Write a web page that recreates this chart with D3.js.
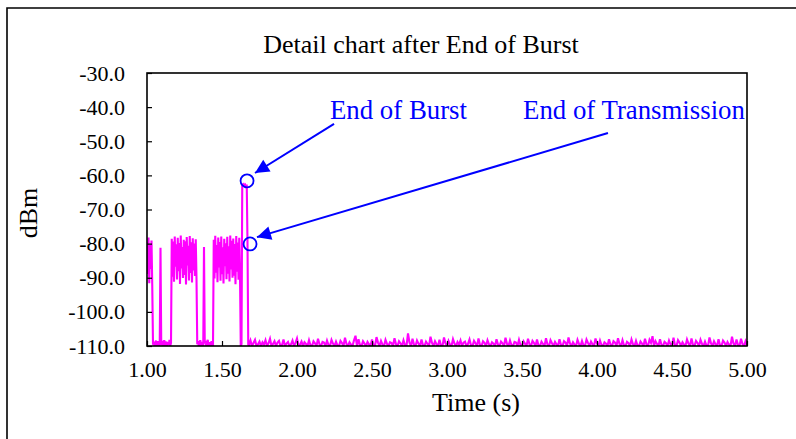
<!DOCTYPE html>
<html>
<head>
<meta charset="utf-8">
<script src="https://cdn.jsdelivr.net/npm/d3@7"></script>
<style>
  html, body { margin: 0; padding: 0; background: #fff; }
  svg { display: block; }
  text { font-family: "Liberation Serif", "Times New Roman", serif; }
</style>
</head>
<body>
<svg id="chart" width="796" height="439"></svg>
<script>
// ---------------- DATA ----------------
const chartTitle = "Detail chart after End of Burst";
const xTitle = "Time (s)";
const yTitle = "dBm";
const xTicks = [1.00, 1.50, 2.00, 2.50, 3.00, 3.50, 4.00, 4.50, 5.00];
const yTicks = [-30, -40, -50, -60, -70, -80, -90, -100, -110];

// burst section: samples from 1.000 s every 0.005 s
const burstStart = 1.0;
const burstStep = 0.005;
const burstValues = [
  -79.5, -88.9, -78.2, -91.6, -80.3, -87.4, -79.1, -92.3, -109.6, -108.7,
  -110, -109.1, -108.4, -110, -109.3, -108.6, -110, -109.4, -81.2, -109.8,
  -108.5, -110, -109.2, -108.3, -110, -109.5, -108.7, -110, -108.9, -109.7,
  -108.2, -110, -109.1,
  -78.6, -89.7, -79.4, -91.2, -77.9, -86.8, -80.2, -90.5, -78.3, -88.1,
  -79.8, -91.8, -77.6, -87.3, -81.0, -90.1, -78.9, -89.2, -79.3, -92.0,
  -78.1, -86.4, -80.6, -90.8, -77.8, -88.6, -79.6, -91.4, -78.4, -87.9,
  -80.0, -89.5, -78.7, -90.3,
  -109.5, -108.6, -110, -109.0, -108.3, -110, -109.6, -108.8, -110, -81.0,
  -109.3, -108.5, -110, -109.1, -108.2, -110, -109.7, -108.9, -110, -108.6,
  -109.4, -110,
  -78.9, -90.2, -77.7, -88.5, -80.4, -91.3, -78.2, -87.0, -79.5, -90.9,
  -77.9, -89.0, -81.1, -91.7, -78.6, -86.6, -79.9, -90.4, -78.0, -88.8,
  -80.8, -91.1, -77.6, -87.6, -79.2, -90.0, -78.5, -89.4, -80.1, -91.9,
  -77.8, -88.2, -79.7, -90.6, -78.3, -89.1,
  -110, -109.4, -62.4, -62.9, -62.6, -63.1, -62.8, -63.4, -62.7, -79.9,
  -109.6
];

// noise floor after the end of transmission: samples from 1.68 s every 0.01 s
const floorStart = 1.68;
const floorStep = 0.01;
const floorValues = [
  -109.8,-108.4,-110,-109.1,-108.2,-110,-109.5,-108.7,-110,-108.9,-109.6,-108.3,-110,-109.2,-107.9,-110,-109.4,-108.6,-110,-109.0,
  -108.5,-110,-109.7,-108.1,-110,-109.3,-108.8,-110,-109.5,-108.4,-110,-109.1,-107.8,-110,-109.6,-108.7,-110,-108.9,-109.4,-110,
  -108.3,-109.8,-110,-108.6,-109.2,-110,-107.9,-109.5,-110,-108.8,-109.0,-110,-108.4,-109.7,-110,-108.2,-109.3,-110,-108.7,-109.9,
  -110,-108.5,-109.1,-110,-107.6,-109.4,-110,-108.9,-109.6,-110,-108.3,-107.0,-110,-108.0,-109.7,-110,-108.6,-109.3,-110,-108.8,
  -109.5,-110,-108.1,-109.8,-110,-107.4,-109.0,-110,-108.5,-109.6,-110,-108.2,-109.4,-110,-108.9,-109.1,-110,-107.7,-109.5,-110,
  -108.6,-109.2,-110,-108.3,-109.7,-110,-106.3,-109.0,-110,-107.9,-109.6,-110,-108.4,-109.3,-110,-108.1,-109.8,-110,-108.7,-109.4,
  -110,-107.3,-109.1,-110,-108.6,-109.5,-110,-108.2,-109.9,-110,-107.5,-109.2,-110,-108.5,-109.6,-110,-108.0,-109.3,-110,-108.8,
  -109.6,-108.4,-110,-109.0,-108.7,-110,-109.4,-108.1,-109.8,-110,-108.5,-109.2,-110,-107.8,-109.7,-110,-108.6,-109.1,-110,-108.3,
  -109.5,-110,-108.9,-109.3,-110,-108.0,-109.6,-110,-108.7,-109.2,-110,-107.6,-109.4,-110,-108.4,-109.8,-110,-108.8,-109.0,-110,
  -108.2,-109.7,-110,-108.6,-109.3,-110,-107.9,-109.5,-110,-108.5,-109.1,-110,-108.1,-109.9,-110,-108.7,-109.4,-110,-107.7,-109.6,
  -110,-108.3,-109.2,-110,-108.8,-109.5,-110,-108.0,-109.7,-110,-108.6,-109.0,-110,-107.5,-109.3,-110,-108.9,-109.6,-110,-108.2,
  -109.4,-110,-108.5,-109.8,-110,-108.1,-109.1,-110,-108.7,-109.5,-110,-107.8,-109.2,-110,-108.4,-109.7,-110,-108.9,-109.3,-110,
  -108.0,-109.6,-110,-108.6,-109.0,-110,-107.7,-109.4,-110,-108.3,-109.8,-110,-108.8,-109.2,-110,-108.1,-109.5,-110,-108.5,-109.9,
  -110,-108.7,-109.3,-110,-107.9,-109.6,-110,-108.2,-109.1,-107.1,-110,-108.6,-109.4,-110,-108.0,-109.7,-110,-108.8,-109.2,-110,
  -108.4,-109.5,-110,-107.6,-109.8,-110,-108.3,-109.0,-110,-108.9,-109.6,-110,-108.1,-109.3,-110,-107.8,-109.7,-110,-108.5,-109.1,
  -110,-108.2,-109.4,-110,-108.7,-109.9,-110,-107.5,-109.2,-110,-108.6,-109.5,-110,-108.0,-109.8,-110,-108.4,-109.0,-110,-108.8,
  -109.6,-110,-107.3,-109.3,-110,-108.1,-109.7,-110,-107.9,-109.4,-110,-108.6,-109.8
];

// annotation markers (data coordinates)
const markerLabels = ["End of Burst", "End of Transmission"];
const markerTimes = [1.667, 1.687];
const markerLevels = [-61.6, -80.1];

// ---------------- CHART ----------------
const svg = d3.select("#chart");
const plot = { left: 147, right: 747, top: 73, bottom: 346 };

const x = d3.scaleLinear().domain([1, 5]).range([plot.left, plot.right]);
const y = d3.scaleLinear().domain([-110, -30]).range([plot.bottom, plot.top]);

// outer chart border (top + left visible)
svg.append("path")
  .attr("d", "M7,439 L7,8 L796,8")
  .attr("fill", "none").attr("stroke", "#000").attr("stroke-width", 1.6);

// title
svg.append("text").attr("x", 421).attr("y", 53)
  .attr("text-anchor", "middle").attr("font-size", 26).text(chartTitle);

// series
const points = burstValues.map((v, i) => ({ t: burstStart + i * burstStep, v }))
  .concat(floorValues.map((v, i) => ({ t: floorStart + i * floorStep, v })));

svg.append("clipPath").attr("id", "clip").append("rect")
  .attr("x", plot.left).attr("y", plot.top - 2)
  .attr("width", plot.right - plot.left).attr("height", plot.bottom - plot.top + 2);

svg.append("path")
  .datum(points)
  .attr("clip-path", "url(#clip)")
  .attr("fill", "none")
  .attr("stroke", "#ff00ff")
  .attr("stroke-width", 2.1)
  .attr("stroke-linejoin", "miter")
  .attr("d", d3.line().x(d => x(d.t)).y(d => y(d.v)));

// plot frame
svg.append("rect")
  .attr("x", plot.left).attr("y", plot.top)
  .attr("width", plot.right - plot.left).attr("height", plot.bottom - plot.top)
  .attr("fill", "none").attr("stroke", "#000").attr("stroke-width", 1.6);

// axes
const yAxis = d3.axisLeft(y).tickValues(yTicks)
  .tickSizeInner(-5).tickSizeOuter(0).tickPadding(22)
  .tickFormat(v => v.toFixed(1));
const gy = svg.append("g").attr("transform", `translate(${plot.left},0)`).call(yAxis);
gy.select(".domain").remove();
gy.selectAll(".tick line").attr("stroke", "#000").attr("stroke-width", 1.2);
gy.selectAll(".tick text").attr("font-size", 22).attr("fill", "#000")
  .style("font-family", '"Liberation Serif", serif');

const xAxis = d3.axisBottom(x).tickValues(xTicks)
  .tickSizeInner(-5).tickSizeOuter(0).tickPadding(15)
  .tickFormat(v => v.toFixed(2));
const gx = svg.append("g").attr("transform", `translate(0,${plot.bottom})`).call(xAxis);
gx.select(".domain").remove();
gx.selectAll(".tick line").attr("stroke", "#000").attr("stroke-width", 1.2);
gx.selectAll(".tick text").attr("font-size", 22).attr("fill", "#000")
  .style("font-family", '"Liberation Serif", serif');

// axis titles
svg.append("text").attr("x", 476).attr("y", 411)
  .attr("text-anchor", "middle").attr("font-size", 26).text(xTitle);
svg.append("text")
  .attr("transform", "translate(37,213) rotate(-90)")
  .attr("text-anchor", "middle").attr("font-size", 26).text(yTitle);

// annotations
const blue = "#0000ff";
const defs = svg.append("defs");
defs.append("marker").attr("id", "arrow")
  .attr("viewBox", "0 0 10 10").attr("refX", 10).attr("refY", 5)
  .attr("markerUnits", "userSpaceOnUse")
  .attr("markerWidth", 18).attr("markerHeight", 14)
  .attr("orient", "auto")
  .append("path").attr("d", "M0,0 L10,5 L0,10 Z").attr("fill", blue);

const labelPos = [[2.22, -43.4], [3.507, -43.4]];
const arrowFrom = [[2.247, -44.9], [4.073, -47.6]];
const arrowTo = [[1.72, -59.3], [1.733, -78.1]];

markerLabels.forEach((lab, i) => {
  svg.append("circle")
    .attr("cx", x(markerTimes[i])).attr("cy", y(markerLevels[i])).attr("r", 6.5)
    .attr("fill", "none").attr("stroke", blue).attr("stroke-width", 1.8);
  svg.append("line")
    .attr("x1", x(arrowFrom[i][0])).attr("y1", y(arrowFrom[i][1]))
    .attr("x2", x(arrowTo[i][0])).attr("y2", y(arrowTo[i][1]))
    .attr("stroke", blue).attr("stroke-width", 2)
    .attr("marker-end", "url(#arrow)");
  svg.append("text")
    .attr("x", x(labelPos[i][0])).attr("y", y(labelPos[i][1]))
    .attr("font-size", 26.8).attr("fill", blue).text(lab);
});
</script>
</body>
</html>
